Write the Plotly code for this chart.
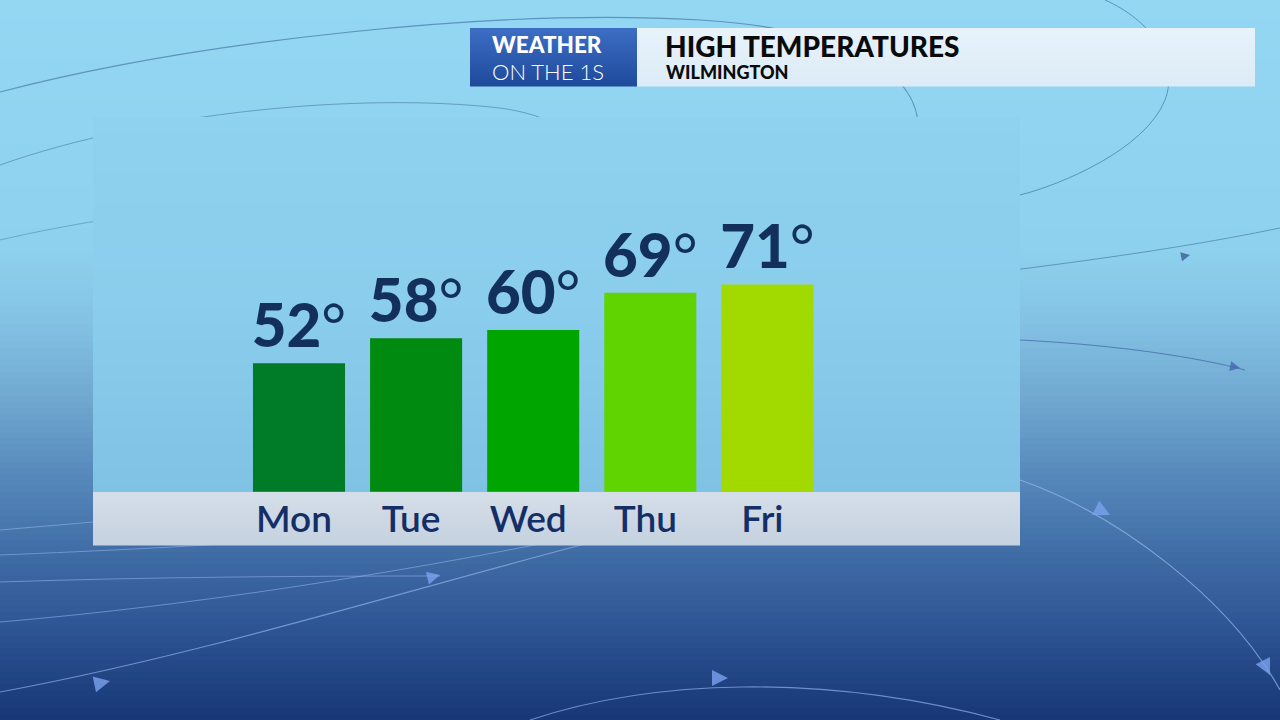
import plotly.graph_objects as go

# ---- data ----
days = ["Mon", "Tue", "Wed", "Thu", "Fri"]
highs = [52, 58, 60, 69, 71]
bar_colors = ["#007b28", "#008a10", "#00a500", "#5fd400", "#a2da00"]
title_main = "HIGH TEMPERATURES"
title_sub = "WILMINGTON"

W, H = 1280, 720


def px(x, y):
    return x / W, 1 - y / H


def hexrgb(h):
    h = h.lstrip("#")
    return tuple(int(h[i:i + 2], 16) for i in (0, 2, 4))


def lerp_color(stops, y):
    for (y0, c0), (y1, c1) in zip(stops, stops[1:]):
        if y0 <= y <= y1:
            t = (y - y0) / (y1 - y0) if y1 > y0 else 0
            a, b = hexrgb(c0), hexrgb(c1)
            return "rgb(%d,%d,%d)" % tuple(round(a[i] + (b[i] - a[i]) * t) for i in range(3))
    return stops[-1][1]


shapes = []


def rect(x0, y0, x1, y1, color, line=None):
    ax0, ay0 = px(x0, y0)
    ax1, ay1 = px(x1, y1)
    shapes.append(dict(type="rect", xref="paper", yref="paper", x0=ax0, x1=ax1,
                       y0=ay1, y1=ay0, fillcolor=color, layer="below",
                       line=dict(width=0) if line is None else line))


def gradient(x0, y0, x1, y1, stops, step=6):
    y = y0
    while y < y1:
        yb = min(y + step, y1)
        rect(x0, y, x1, yb + 0.6, lerp_color(stops, (y + yb) / 2))
        y = yb


# background gradient
bg_stops = [(0, "#93d7f3"), (250, "#8ed1ef"), (320, "#84c2e4"), (400, "#70a8d0"),
            (480, "#5587ba"), (560, "#3e6aa4"), (640, "#2b5190"), (720, "#173675")]
gradient(0, 0, W, H, bg_stops)


# decorative streamlines
def path(d_pts, color, width=1.2, opacity=0.7):
    parts = []
    for cmd, pts in d_pts:
        s = " ".join("%.5f,%.5f" % px(x, y) for x, y in pts)
        parts.append(cmd + " " + s)
    shapes.append(dict(type="path", xref="paper", yref="paper", path=" ".join(parts),
                       line=dict(color=color, width=width), opacity=opacity, layer="below"))


dark = "#3b6797"
light = "#9ab8f0"
path([("M", [(0, 92)]), ("C", [(200, 40), (500, 8), (700, 20)]), ("C", [(860, 30), (935, 80), (915, 150)])], dark, 1.2, 0.6)
path([("M", [(0, 165)]), ("C", [(150, 112), (360, 92), (500, 108)]), ("C", [(585, 120), (612, 165), (600, 215)])], dark, 1.0, 0.5)
path([("M", [(0, 240)]), ("C", [(150, 205), (350, 188), (460, 205)])], dark, 1.0, 0.4)
path([("M", [(1105, 0)]), ("C", [(1150, 20), (1180, 60), (1165, 100)]), ("C", [(1145, 150), (1060, 185), (1020, 195)])], dark, 1.0, 0.6)
path([("M", [(830, 292)]), ("C", [(1000, 272), (1150, 255), (1280, 228)])], dark, 1.0, 0.55)
path([("M", [(1020, 340)]), ("C", [(1120, 345), (1200, 358), (1245, 370)])], "#3e63a8", 1.0, 0.7)
path([("M", [(1020, 480)]), ("C", [(1120, 515), (1230, 600), (1280, 690)])], light, 1.2, 0.7)
path([("M", [(0, 692)]), ("C", [(200, 655), (400, 592), (600, 540)])], light, 1.2, 0.65)
path([("M", [(530, 720)]), ("C", [(650, 680), (820, 672), (1000, 720)])], light, 1.2, 0.65)
path([("M", [(0, 530)]), ("L", [(93, 522)])], light, 1.0, 0.55)
path([("M", [(0, 555)]), ("C", [(100, 551), (200, 546), (320, 538)])], light, 1.0, 0.55)
path([("M", [(0, 582)]), ("C", [(150, 577), (300, 576), (440, 576)])], light, 1.0, 0.55)
path([("M", [(0, 622)]), ("C", [(200, 605), (400, 572), (560, 540)])], light, 1.0, 0.55)

# panel
panel_stops = [(117, "#8ed2ef"), (300, "#8acdec"), (492, "#7fc2e4")]
gradient(93, 117, 1020, 492, panel_stops, step=8)
strip_stops = [(492, "#d4dee9"), (545, "#c5d2df")]
gradient(93, 492, 1020, 545, strip_stops, step=4)

# header boxes
hdr_blue = [(28, "#3c6ec4"), (86, "#1f4a9c")]
gradient(470, 28, 637, 86, hdr_blue, step=2)
hdr_light = [(28, "#e8f3fb"), (86, "#dcebf6")]
gradient(637, 28, 1255, 86, hdr_light, step=2)

annotations = []


def text(x, y, s, size, color, weight="bold", xanchor="left", yanchor="middle"):
    ax, ay = px(x, y)
    annotations.append(dict(x=ax, y=ay, xref="paper", yref="paper", text=s, showarrow=False,
                            xanchor=xanchor, yanchor=yanchor, borderpad=0,
                            font=dict(family="Lato", size=size, color=color, weight=weight)))


text(491, 44.5, "WEATHER", 22.5, "white", weight=900)
text(491, 71.5, "ON THE 1S", 22, "white", weight=300)
text(664, 46, title_main, 28, "#0a0a0a", weight=900)
text(665, 72, title_sub, 18, "#0a0a0a", weight=900)


def arrow(x, y, dx, dy, color, size=1.6):
    ax, ay = px(x, y)
    annotations.append(dict(x=ax, y=ay, xref="paper", yref="paper", text="", showarrow=True,
                            ax=-dx, ay=-dy, arrowhead=2, arrowsize=size, arrowwidth=2,
                            arrowcolor=color, opacity=0.8))


arrow(110, 681, 14, -3, "#7aa3ee")
arrow(728, 678, 14, 0, "#7aa3ee")
arrow(1110, 515, 12, 6, "#7aa3ee")
arrow(1270, 675, 6, 12, "#7aa3ee")
arrow(440, 575, 12, -3, "#7aa3ee", 1.3)
arrow(1240, 368, 10, 2, "#4766b0", 1.0)
arrow(1190, 255, 10, -2, "#3c5e98", 0.9)

# ---- bars ----
fig = go.Figure(go.Bar(
    x=days, y=highs,
    marker=dict(color=bar_colors, line=dict(width=0)),
    texttemplate="%{y}<span style='font-weight:400'>°</span>",
    textposition="outside",
    constraintext="none",
    cliponaxis=False,
    textfont=dict(family="Lato", size=60, color="#13305c", weight=900),
    hoverinfo="skip",
))

x_left = (299 - 117.1 * 0.5) / W
x_right = (299 + 117.1 * 4.5) / W
fig.update_layout(
    width=W, height=H,
    margin=dict(l=0, r=0, t=0, b=0),
    paper_bgcolor="rgba(0,0,0,0)",
    plot_bgcolor="rgba(0,0,0,0)",
    showlegend=False,
    bargap=0.214,
    shapes=shapes,
    annotations=annotations,
    xaxis=dict(domain=[x_left, x_right], range=[-0.5, 4.5], showgrid=False, zeroline=False,
               showline=False, ticks="", ticklabelshift=-5, ticklabelstandoff=2,
               tickfont=dict(family="Lato", size=37, color="#132f66", weight=600),
               fixedrange=True),
    yaxis=dict(domain=[1 - 491.7 / H, 1 - 205.6 / H], range=[21, 90], visible=False,
               fixedrange=True),
)

fig.write_html("out.html", config={"displayModeBar": False},
               post_script="document.body.style.margin='0';document.body.style.padding='0';"
                           "document.body.style.overflow='hidden';")
